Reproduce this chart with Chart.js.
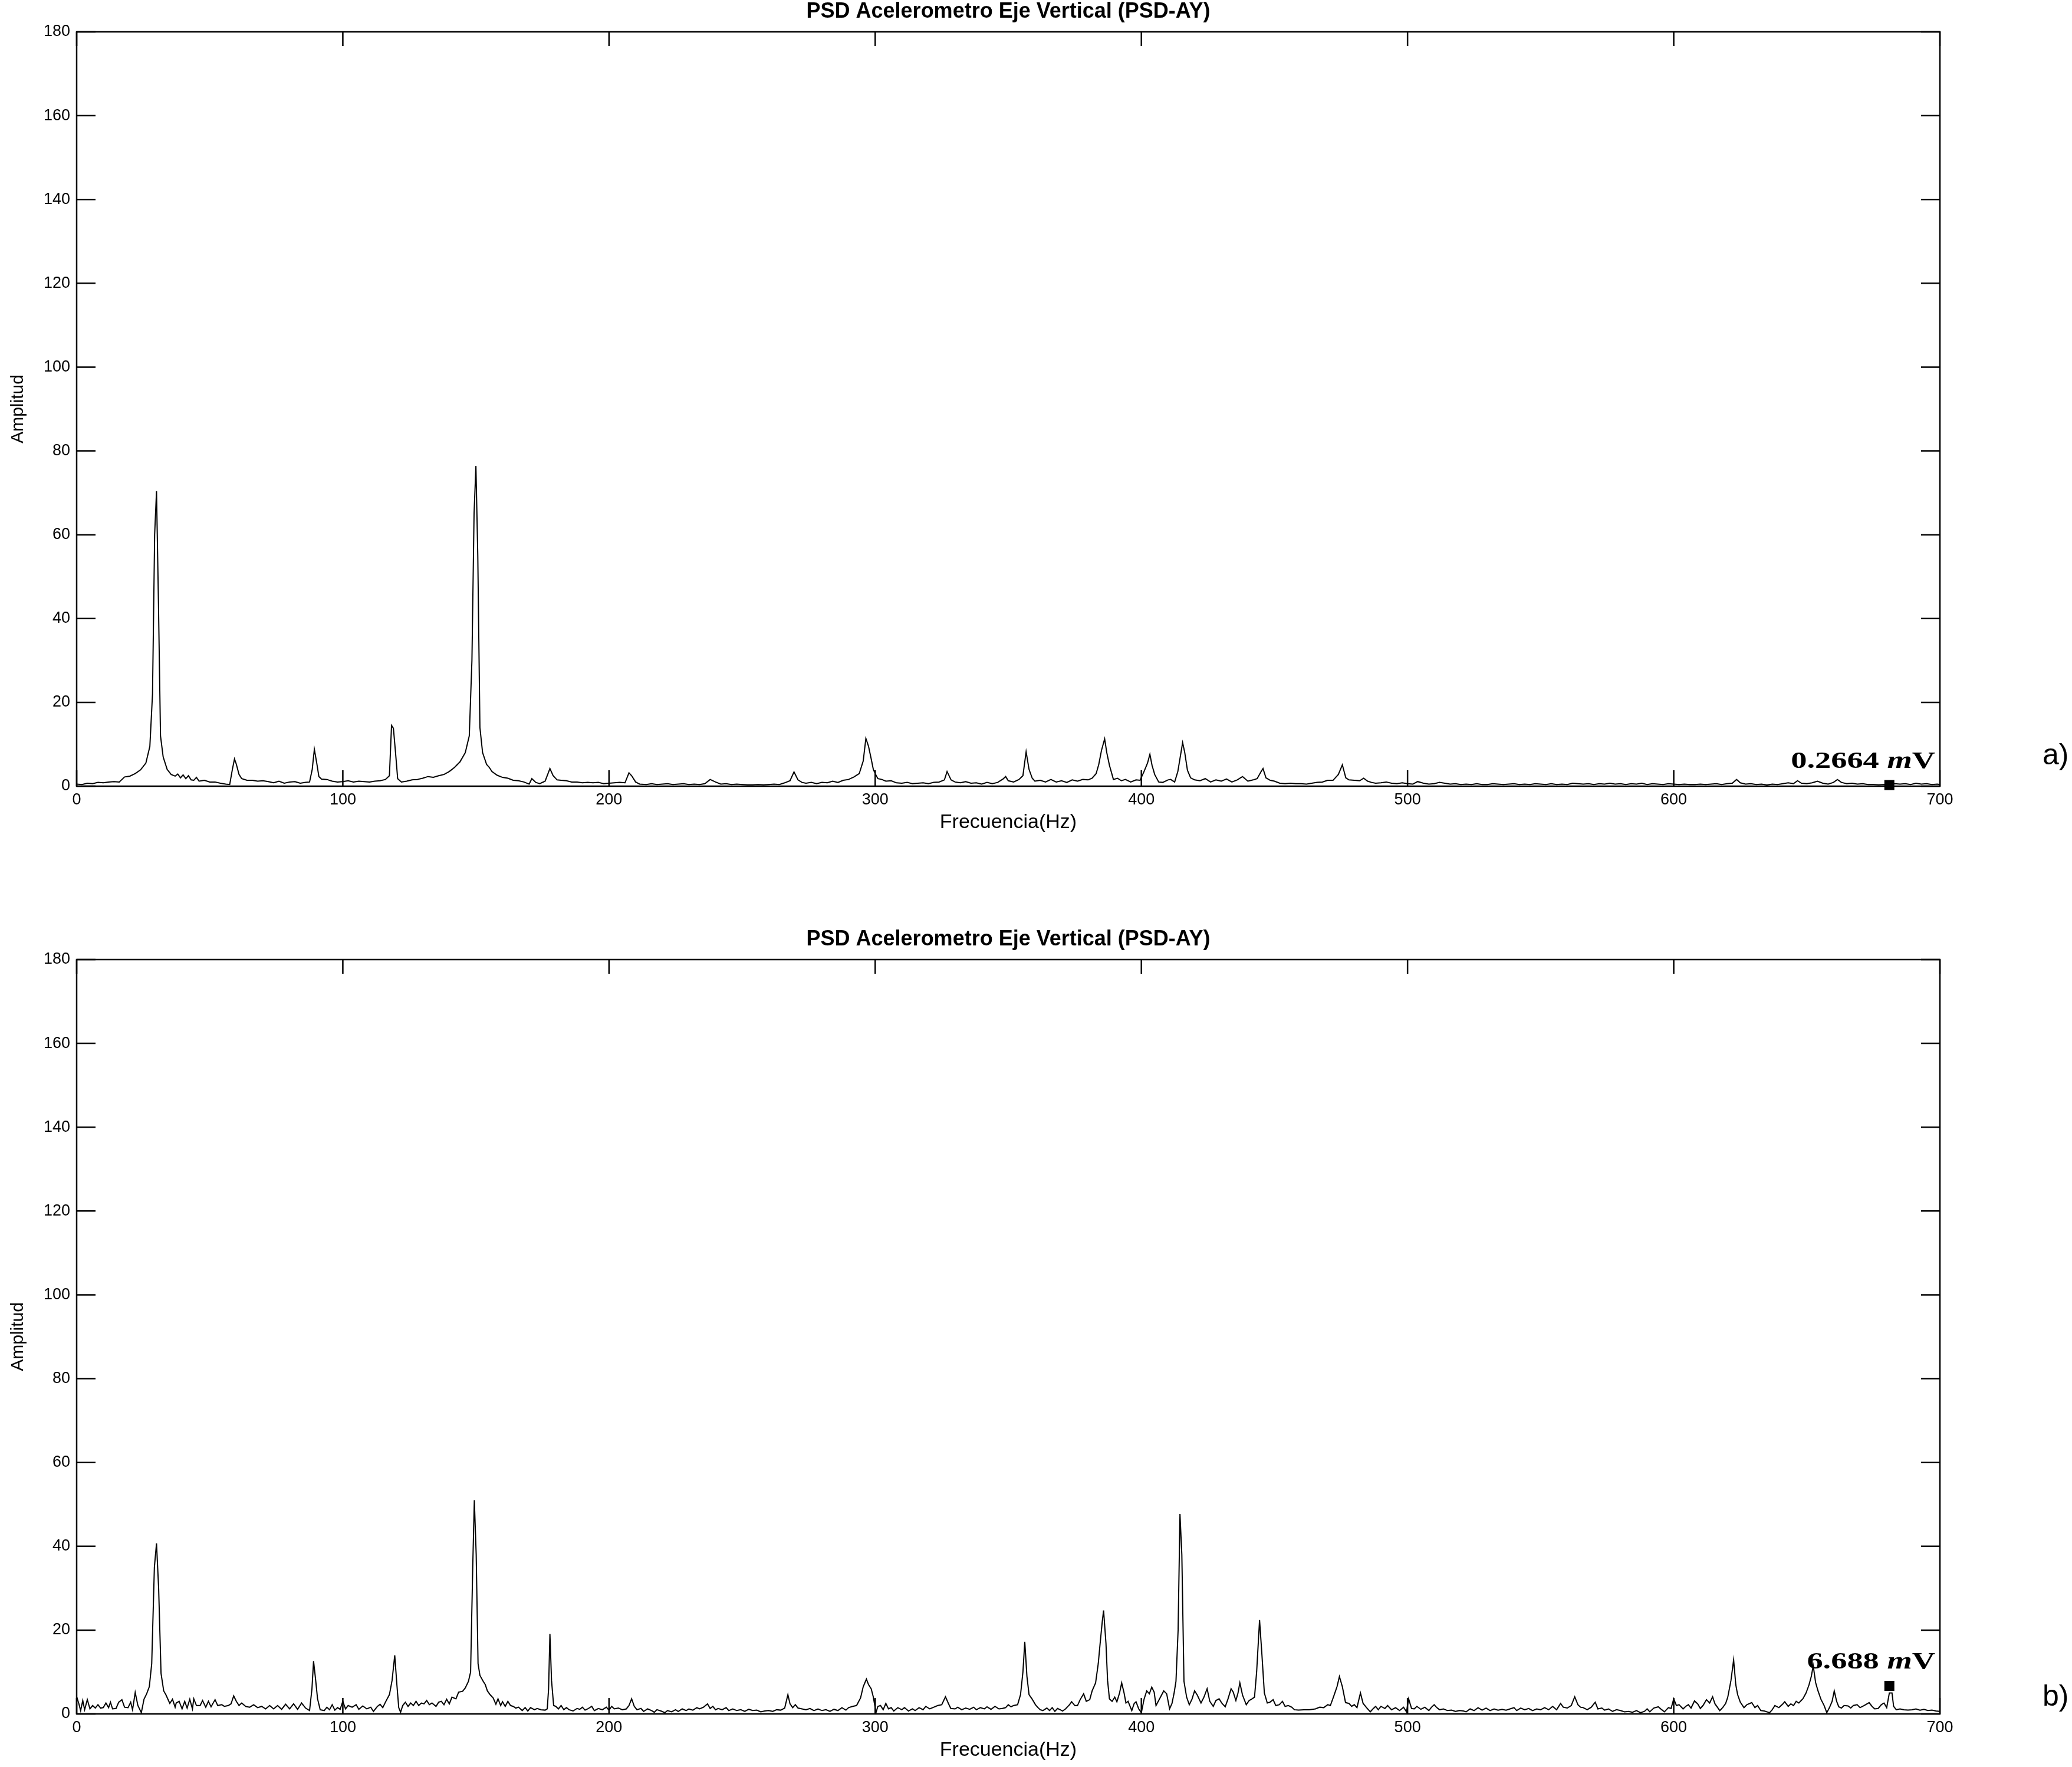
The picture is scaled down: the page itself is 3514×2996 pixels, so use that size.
<!DOCTYPE html>
<html lang="es">
<head>
    <meta charset="UTF-8">
    <title>PSD Acelerometro Eje Vertical</title>
    <script src="https://cdn.jsdelivr.net/npm/chart.js"></script>
    <style>
        body { margin: 0; background: #fff; }
        .panel { position: absolute; left: 0; width: 3514px; height: 1423px; }
        #panelA { top: 0; }
        #panelB { top: 1573px; }
    </style>
</head>
<body>
    <div class="panel" id="panelA"><canvas id="chartA" width="3514" height="1423"></canvas></div>
    <div class="panel" id="panelB"><canvas id="chartB" width="3514" height="1423"></canvas></div>

    <script>
        const title = 'PSD Acelerometro Eje Vertical (PSD-AY)';
        const xLabel = 'Frecuencia(Hz)';
        const yLabel = 'Amplitud';
        const xTicks = [0, 100, 200, 300, 400, 500, 600, 700];
        const yTicks = [0, 20, 40, 60, 80, 100, 120, 140, 160, 180];
        const panelLabels = ['a)', 'b)'];
        const markerFreq = 681;
        const markerAmps = [0.2664, 6.688];
        const markerTexts = ['0.2664 ', '6.688 '];

        // [Hz, amplitude] read off panel a)
        const spectrumA = [
            [0,0.5],[2,0.4],[4,0.7],[6,0.6],[8,0.9],[10,0.8],[12,1.0],[14,1.1],[16,1.0],[18,2.2],
            [20,2.4],[22,3.0],[24,3.9],[26,5.5],[27.5,9.5],[28.5,22],[29.3,60],[30,70.4],[30.7,45],[31.5,12],
            [32.5,7],[34,4],[35.5,2.8],[37,2.4],[38,2.9],[39,2.0],[40,2.7],[41,1.8],[42,2.5],[43,1.5],
            [44,1.4],[45,2.1],[46,1.2],[48,1.4],[50,1.0],[52,1.0],[54,0.7],[56,0.5],[57.5,0.4],[58.5,4],
            [59.3,6.5],[60,5.2],[61,2.8],[62,1.8],[64,1.4],[66,1.4],[68,1.2],[70,1.3],[72,1.1],[74,0.8],
            [76,1.2],[78,0.7],[80,1.0],[82,1.1],[84,0.7],[86,0.9],[87.5,1.0],[88.5,4],[89.3,8.8],[90.2,5.5],
            [91,2.3],[92,1.7],[94,1.6],[96,1.2],[98,1.0],[100,1.1],[102,1.3],[104,1.0],[106,1.2],[108,1.1],
            [110,1.0],[112,1.2],[114,1.3],[116,1.6],[117.5,2.5],[118.3,14.5],[119,13.8],[119.8,8],[120.6,1.8],[122,1.0],
            [124,1.2],[126,1.5],[128,1.6],[130,1.9],[132,2.3],[134,2.1],[136,2.5],[138,2.8],[140,3.5],[142,4.5],
            [144,5.8],[146,8.0],[147.5,12],[148.5,30],[149.3,65],[150,76.4],[150.7,55],[151.5,14],[152.5,8],[154,5.2],
            [155,4.5],[156,3.5],[158,2.6],[160,2.1],[162,1.9],[164,1.4],[166,1.3],[168,1.0],[170,0.5],[171,1.8],
            [172.5,0.9],[174,0.6],[176,1.2],[177.8,4.2],[179,2.5],[180.5,1.5],[182,1.4],[184,1.3],[186,1.0],[188,1.0],
            [190,0.8],[192,0.9],[194,0.8],[196,0.9],[198,0.6],[200,0.7],[202,0.8],[204,0.9],[206,0.8],[207.5,3.2],
            [208.5,2.5],[210,1.0],[211.5,0.5],[214,0.4],[216,0.6],[218,0.4],[220,0.5],[222,0.6],[224,0.4],[226,0.5],
            [228,0.6],[230,0.4],[232,0.5],[234,0.4],[236,0.6],[238,1.6],[240,1.0],[242,0.5],[244,0.6],[246,0.4],
            [248,0.5],[250,0.4],[252,0.3],[254,0.3],[256,0.4],[258,0.3],[260,0.4],[262,0.5],[264,0.4],[266,0.8],
            [268,1.3],[269.5,3.4],[271,1.5],[272.5,0.9],[274,0.7],[276,0.9],[278,0.6],[280,0.9],[282,0.8],[284,1.2],
            [286,0.9],[288,1.4],[290,1.6],[292,2.2],[294,3.0],[295.5,6],[296.5,11.4],[297.5,9.5],[298.5,6.5],[299.3,4],
            [300,3.0],[301,1.8],[302.5,1.6],[304,1.2],[306,1.3],[308,0.8],[310,0.7],[312,0.9],[314,0.6],[316,0.7],
            [318,0.8],[320,0.6],[322,0.9],[324,1.0],[326,1.5],[327,3.5],[328.5,1.5],[330,1.0],[332,0.8],[334,1.1],
            [336,0.7],[338,0.8],[340,0.5],[342,0.9],[344,0.6],[346,0.9],[348,1.7],[349,2.3],[350,1.3],[352,1.0],
            [354,1.6],[355.5,2.5],[356.7,8.2],[357.8,4],[359,1.9],[360,1.2],[362,1.4],[364,1.0],[366,1.6],[368,1.0],
            [370,1.3],[372,0.9],[374,1.5],[376,1.2],[378,1.6],[380,1.5],[381.5,1.9],[383,3],[384,5.2],[385,8.5],
            [386.2,11.3],[387,8],[388,5],[389.5,1.6],[391,1.9],[392.5,1.3],[394,1.6],[396,1.0],[398,1.5],[399.5,1.4],
            [401,3.5],[402.3,5.5],[403.2,7.6],[404,5],[405,2.8],[406.5,1.0],[408,0.9],[410,1.5],[411,1.6],[412.5,1.0],
            [413.7,3.5],[414.5,6.6],[415.5,10.4],[416.3,8],[417.3,3.8],[418.5,2.0],[420,1.5],[422,1.3],[424,1.8],[426,1.0],
            [428,1.5],[430,1.2],[432,1.7],[434,1.0],[436,1.5],[438,2.3],[440,1.2],[442,1.5],[443.5,1.8],[445,3.5],
            [445.7,4.2],[446.8,2.0],[448.4,1.4],[450,1.2],[452,0.7],[454,0.6],[456,0.7],[458,0.6],[460,0.6],[462,0.5],
            [464,0.7],[466,0.9],[468,1.0],[470,1.4],[472,1.4],[474,2.8],[475.5,5.1],[476.8,2.0],[478,1.5],[480,1.4],
            [482,1.3],[483.5,1.9],[485,1.2],[486.5,0.9],[488,0.7],[490,0.8],[492,1.0],[494,0.7],[496,0.6],[498,0.8],
            [500,0.6],[502,0.5],[503.8,1.1],[506,0.7],[508,0.5],[510,0.6],[512,0.9],[514,0.7],[516,0.5],[518,0.6],
            [520,0.4],[522,0.5],[524,0.4],[526,0.6],[528,0.4],[530,0.4],[532,0.6],[534,0.5],[536,0.4],[538,0.5],
            [540,0.6],[542,0.4],[544,0.5],[546,0.4],[548,0.6],[550,0.5],[552,0.4],[554,0.6],[556,0.4],[558,0.5],
            [560,0.4],[562,0.7],[564,0.6],[566,0.5],[568,0.6],[570,0.4],[572,0.6],[574,0.5],[576,0.7],[578,0.5],
            [580,0.6],[582,0.4],[584,0.6],[586,0.5],[588,0.7],[590,0.4],[592,0.6],[594,0.5],[596,0.4],[598,0.6],
            [600,0.5],[602,0.4],[604,0.5],[606,0.4],[608,0.4],[610,0.5],[612,0.4],[614,0.5],[616,0.6],[618,0.4],
            [620,0.6],[622,0.7],[623.6,1.6],[625,0.8],[627,0.5],[629,0.6],[631,0.4],[633,0.5],[635,0.3],[637,0.5],
            [639,0.4],[641,0.6],[643,0.8],[645,0.6],[646.5,1.3],[648,0.7],[650,0.6],[652,0.8],[654,1.2],[656,0.7],
            [658,0.5],[660,0.9],[661.5,1.6],[663,0.9],[665,0.6],[667,0.7],[669,0.5],[671,0.6],[673,0.4],[675,0.4],
            [677,0.3],[679,0.4],[681,0.27],[683,0.6],[685,0.5],[687,0.6],[689,0.4],[691,0.7],[693,0.5],[695,0.6],
            [697,0.4],[699,0.5],[700,0.4]
        ];

        // [Hz, amplitude] read off panel b)
        const spectrumB = [
            [0,4.1],[0.8,2.5],[1.5,0.8],[2.3,3.2],[3,1.0],[4,3.4],[5,1.2],[6,2.0],[7,1.4],[8,2.2],
            [9,1.4],[10,1.5],[11,2.6],[12,1.5],[12.7,2.8],[13.5,1.2],[14.8,1.3],[15.8,2.8],[17,3.4],[18,1.6],
            [19.3,1.5],[20.3,2.8],[21,1.0],[22,5.1],[23,2.0],[24.3,0.3],[25.3,3.5],[26.3,4.8],[27.3,6.5],[28.2,12],
            [29.2,35],[30,40.7],[30.8,30],[31.7,9.7],[32.7,5.5],[33.5,4.6],[34.5,3.2],[35,2.5],[36,3.5],[37,1.6],
            [37.4,2.6],[38.5,3.0],[39.6,1.2],[40.6,3.0],[41.5,1.4],[42.5,3.5],[43.5,1.2],[44,3.6],[45,2.0],[46.4,2.0],
            [47.3,3.2],[48.5,1.6],[49.5,3.0],[50.5,1.7],[52,3.4],[53,2.0],[54.5,2.2],[55.5,1.8],[57,2.0],[58,2.4],
            [59,4.3],[60,3.0],[61,2.0],[62,2.6],[63.5,1.8],[65,1.6],[66.5,2.2],[68,1.5],[69.5,1.8],[71,1.2],
            [72.5,2.0],[74,1.2],[75.5,2.0],[77,1.1],[78.5,2.3],[80,1.2],[81.5,2.4],[83,1.1],[84.5,2.6],[86,1.4],
            [87.5,0.8],[88.4,6],[89,12.6],[89.8,8],[90.5,3.6],[91.5,1.0],[93,0.8],[94,1.6],[95,1.0],[96,2.2],
            [97,0.9],[98,1.5],[99,1.1],[100,3.0],[101,1.2],[102,2.0],[103.5,1.6],[105,2.2],[106,1.1],[107.5,1.9],
            [109,1.2],[110.5,1.6],[111.5,0.6],[113,1.8],[114,2.3],[115,1.5],[116,2.8],[117.5,4.6],[118.5,8],[119.5,14],
            [120.3,7],[121,1.5],[121.7,0.4],[122.5,2.0],[123.5,2.8],[124.5,1.8],[125.5,2.6],[126.5,2.0],[127.5,3.0],[128.5,2.0],
            [129.5,2.6],[130.5,2.4],[131.5,3.2],[132.5,2.2],[133.5,2.6],[135,1.8],[136,2.8],[137,3.0],[138,2.2],[139,3.5],
            [140,2.4],[141,4.0],[142.5,3.6],[143.5,5.2],[145,5.4],[146,6.2],[147.2,7.8],[148,10],[148.8,35],[149.4,51],
            [150.1,38],[150.8,12],[151.5,9.2],[152.7,7.8],[153.5,7],[154.3,5.5],[155.3,4.6],[156.5,3.8],[157.5,2.3],[158.3,3.6],
            [159.3,2.0],[160,2.9],[161,1.8],[162,3.0],[163,2.0],[164,1.8],[165,1.4],[166,1.6],[167.4,0.8],[168.5,1.5],
            [169.5,0.7],[170.5,1.5],[172,1.0],[173,1.3],[174.5,1.0],[176,0.9],[176.8,1.2],[177.3,6],[177.8,19.1],[178.4,8],
            [179.2,2.0],[180,1.8],[181,1.2],[182,2.0],[183,1.0],[184,1.5],[185,1.0],[186.5,0.7],[188,1.3],[189,1.1],
            [190,1.6],[191,0.9],[192,1.2],[193.5,1.8],[194.5,0.8],[196,1.3],[197.5,1.0],[199,1.6],[200,0.9],[201,1.8],
            [202,1.2],[203.5,1.4],[205,1.0],[206.5,1.2],[207.5,2.0],[208.5,3.6],[209.5,1.8],[210.5,1.0],[212,1.3],[213,0.6],
            [214.5,1.2],[216,0.8],[217,0.4],[218,1.0],[219.5,0.7],[221,0.3],[222,0.8],[223.5,0.5],[225,1.0],[226,0.6],
            [227.5,1.2],[229,0.8],[230,1.2],[231.5,0.9],[233,1.5],[234,1.2],[235.5,1.6],[237,2.4],[238,1.3],[239,1.8],
            [240,1.0],[241,1.3],[242.5,1.0],[244,1.5],[245,0.8],[246.5,1.2],[248,0.8],[249.5,1.0],[251,0.6],[252.5,1.1],
            [254,0.8],[255.5,0.9],[257,0.5],[258.5,0.7],[260,0.8],[261.5,0.6],[263,1.0],[264.5,0.9],[266,1.4],[267.2,4.6],
            [268,2.4],[269,1.5],[270,2.2],[271,1.4],[272.5,1.2],[274,1.0],[275.5,1.3],[277,0.8],[278.5,1.2],[280,0.8],
            [281.5,1.0],[283,0.6],[284.5,1.1],[286,0.8],[287.5,1.5],[289,0.9],[290,1.5],[291.5,1.8],[293,2.0],[294.5,3.8],
            [295.5,6.5],[296.7,8.3],[297.5,7],[298.5,6],[299.3,4],[300.3,0.3],[301,1.8],[302,2.0],[303,1.0],[304,2.5],
            [305,1.2],[306,1.5],[307,0.7],[308.5,1.5],[310,1.0],[311,1.5],[312.5,0.7],[314,1.2],[315,0.8],[316.5,1.5],
            [318,1.0],[319,1.8],[320.5,1.2],[322,1.6],[323.5,2.0],[325,2.2],[326.4,4.1],[327.5,2.5],[328.4,1.3],[330,1.2],
            [331,1.6],[332.5,1.0],[334,1.4],[335.5,1.1],[337,1.6],[338,1.0],[339.5,1.5],[341,1.2],[342,1.7],[343.5,1.1],
            [345,1.8],[346.5,1.2],[347.8,1.3],[349,1.5],[350,2.2],[351,1.7],[352,2.0],[353.5,2.2],[354.6,4.6],[355.5,10],
            [356.2,17.2],[357,9],[357.8,4.6],[359,3.5],[360.2,2.2],[361,1.6],[362,1.0],[363,0.8],[364.5,1.4],[365.5,0.8],
            [366.5,1.5],[367.5,0.6],[368.5,1.3],[369.5,1.0],[370.4,0.7],[371.5,1.2],[373,2.2],[373.8,2.9],[375,2.0],[376,2.0],
            [377,3.4],[378.3,4.8],[379.3,3.0],[380.6,3.4],[381.5,5.5],[382.8,7.4],[383.8,12],[384.5,16.8],[385.3,22],[385.8,24.7],
            [386.7,16.8],[387.3,8],[388,3.6],[389,3.0],[390,4.0],[390.8,2.9],[391.8,5],[392.6,7.4],[393.5,5],[394.2,2.6],
            [395,3.0],[396.4,0.8],[397.3,2.5],[398,2.9],[399,1.2],[400,0.3],[401,3.5],[402,5.5],[403,4.8],[403.9,6.4],
            [404.8,5.2],[405.5,2.0],[406,2.6],[407,3.8],[408.4,5.5],[409.5,4.8],[410.6,1.2],[411.5,2.5],[412.3,5],[413,7.8],
            [413.8,20],[414.5,47.7],[415.2,38],[416,7.8],[417,4],[418,2.2],[419,3.5],[420,5.5],[421,4.5],[422.4,2.6],
            [423.5,4.0],[424.7,6.0],[425.7,3],[427,1.8],[428,3.2],[429.2,3.6],[430.3,2.5],[431.5,1.7],[432.5,3.5],[433.7,6.0],
            [434.5,5.2],[435.5,3.2],[436.3,5],[437,7.4],[438,4.5],[439.4,2.2],[440.5,3.2],[441.6,3.6],[442.5,4.0],[443.3,10],
            [444.4,22.4],[445.3,14],[446.2,5],[447.3,2.6],[448.3,2.8],[449.5,3.4],[450.5,2.0],[451.8,2.2],[453,3.0],[454,1.8],
            [455.2,2.0],[456.5,1.6],[457.5,1.0],[459,0.9],[461,1.0],[463,1.0],[465.4,1.2],[467,1.6],[468.5,1.5],[470,2.2],
            [471,2.0],[472.2,4.1],[473.5,6.5],[474.4,8.9],[475.5,6.5],[476.7,2.7],[478,2.5],[479,1.8],[480,2.2],[481,1.5],
            [482.3,5.0],[483.3,2.5],[484.6,1.5],[486,0.5],[487,1.2],[488,1.8],[489,1.0],[490,1.8],[491.5,1.3],[492.5,2.0],
            [494,1.0],[495.5,1.5],[497,0.8],[498.5,1.6],[499.6,0.5],[500.4,3.6],[501.5,1.3],[502.5,1.2],[503.5,1.8],[505,1.1],
            [506.5,1.6],[508,0.8],[509,1.6],[510,2.2],[511,1.5],[512,1.0],[513.5,1.2],[515,0.8],[516.5,0.9],[518,0.6],
            [519.5,0.8],[521,0.7],[522,0.5],[523.5,1.2],[525,0.8],[526.5,1.5],[528,0.9],[529.5,1.4],[531,0.8],[532.5,1.2],
            [534,0.9],[535.5,1.1],[537,0.9],[538.5,1.2],[540,1.5],[541,0.8],[542.5,1.4],[544,1.0],[545.5,1.3],[547,0.8],
            [548.5,1.2],[550,1.0],[551.5,1.5],[553,1.0],[554.5,1.8],[556,1.0],[557.5,2.5],[558.5,1.6],[560,1.4],[561.5,2.0],
            [562.8,4.1],[564,2.2],[565,1.6],[566,1.5],[567.5,1.0],[569,1.6],[570.5,2.8],[571.5,1.2],[573,1.4],[574,0.9],
            [575.5,1.2],[577,0.6],[578.5,1.0],[580,0.8],[581.5,0.5],[583,0.6],[584.5,0.4],[586,0.8],[587.5,0.3],[589,0.6],
            [590,1.2],[591,0.5],[592.5,1.4],[594.2,1.7],[595.5,1.0],[596.5,0.5],[598,1.5],[599,1.3],[600,3.6],[601,2.0],
            [602,2.2],[603.5,1.2],[604.5,1.8],[605.5,2.2],[606.5,1.4],[607.8,3.1],[609,2.4],[610,1.3],[611,2.0],[612.3,3.4],
            [613.5,2.6],[614.6,4.1],[615.5,2.4],[617.3,0.8],[618.5,1.6],[619.5,2.5],[620.3,4],[621.5,8],[622.5,12.9],[623.3,7],
            [624,4.6],[625,2.8],[626.4,1.5],[627.5,2.2],[629.3,2.7],[630.5,1.5],[631.5,2.0],[632.7,0.8],[634,0.7],[636,0.3],
            [637,1.0],[638,2.0],[639.5,1.5],[641,2.4],[641.7,2.9],[643,1.8],[644,2.4],[645,2.0],[646,3.0],[647,2.6],
            [648.5,3.6],[649.7,5],[650.8,6.9],[651.7,9],[652.4,11.5],[653.3,7.5],[654.2,5.5],[655.3,3.5],[656.5,2.0],[657.5,0.3],
            [658.5,1.5],[659.5,3.0],[660.3,5.5],[661.2,3.0],[662,1.7],[663,1.4],[664,2.0],[665.5,1.9],[666.5,1.4],[667.5,2.0],
            [668.9,2.2],[670,1.5],[671.5,2.0],[673.4,2.7],[674.5,1.8],[675.5,1.2],[676.8,1.3],[678,2.2],[679,2.6],[680,1.5],
            [681,5.0],[682,5.0],[682.6,1.8],[683.6,1.0],[685,1.2],[686.5,1.0],[688,0.9],[689.5,1.0],[691,1.2],[692.5,0.9],
            [694,1.1],[695.5,0.8],[697,0.9],[698.5,0.7],[700,0.6]
        ];

        const sans = '"Liberation Sans", Arial, sans-serif';
        const serif = '"Liberation Serif", "Times New Roman", serif';

        // title, box with inward ticks, marker text and panel letter
        const decorations = {
            id: 'decorations',
            afterDraw(chart, args, opts) {
                const { ctx, chartArea: a, scales: { x, y } } = chart;
                ctx.save();
                ctx.fillStyle = '#000';
                ctx.strokeStyle = '#000';

                ctx.font = 'bold 36px ' + sans;
                ctx.textAlign = 'center';
                ctx.textBaseline = 'middle';
                ctx.fillText(title, (a.left + a.right) / 2, 20);

                ctx.lineWidth = 2.5;
                ctx.strokeRect(a.left, a.top, a.right - a.left, a.bottom - a.top);
                ctx.beginPath();
                xTicks.forEach(v => {
                    const px = x.getPixelForValue(v);
                    ctx.moveTo(px, a.bottom); ctx.lineTo(px, a.bottom - 27);
                    ctx.moveTo(px, a.top); ctx.lineTo(px, a.top + 24);
                });
                yTicks.forEach(v => {
                    const py = y.getPixelForValue(v);
                    ctx.moveTo(a.left, py); ctx.lineTo(a.left + 32, py);
                    ctx.moveTo(a.right, py); ctx.lineTo(a.right - 32, py);
                });
                ctx.stroke();

                // value label above the square marker
                const pt = chart.getDatasetMeta(1).data[0];
                const parts = [
                    { t: opts.text, f: 'bold 40px ' + serif },
                    { t: 'm', f: 'italic bold 40px ' + serif },
                    { t: 'V', f: 'bold 40px ' + serif }
                ];
                let total = 0;
                parts.forEach(p => { ctx.font = p.f; p.w = ctx.measureText(p.t).width; total += p.w; });
                ctx.translate(a.right - 8, pt.y - 29);
                ctx.scale(1.36, 1);
                ctx.textAlign = 'left';
                ctx.textBaseline = 'alphabetic';
                let cx = -total;
                parts.forEach(p => { ctx.font = p.f; ctx.fillText(p.t, cx, 0); cx += p.w; });
                ctx.restore();

                ctx.save();
                ctx.fillStyle = '#000';
                ctx.font = '50px ' + sans;
                ctx.textAlign = 'left';
                ctx.textBaseline = 'middle';
                ctx.fillText(opts.panel, 3464, opts.panelY);
                ctx.restore();
            }
        };

        function makeChart(id, spectrum, i) {
            return new Chart(document.getElementById(id), {
                type: 'line',
                data: {
                    datasets: [{
                        data: spectrum.map(p => ({ x: p[0], y: p[1] })),
                        borderColor: '#000',
                        borderWidth: 2,
                        pointRadius: 0,
                        tension: 0
                    }, {
                        type: 'scatter',
                        data: [{ x: markerFreq, y: markerAmps[i] }],
                        pointStyle: 'rect',
                        pointRadius: 12,
                        backgroundColor: '#000',
                        borderWidth: 0,
                        clip: false
                    }]
                },
                options: {
                    responsive: false,
                    animation: false,
                    events: [],
                    layout: { padding: { left: 0, top: 54, right: 224, bottom: 0 } },
                    scales: {
                        x: {
                            type: 'linear',
                            min: 0,
                            max: 700,
                            afterFit(s) { s.height = 90; },
                            afterBuildTicks(s) { s.ticks = xTicks.map(v => ({ value: v })); },
                            ticks: { color: '#000', padding: 7, maxRotation: 0, font: { family: sans, size: 27 } },
                            grid: { display: false, drawTicks: false },
                            border: { display: false },
                            title: {
                                display: true, text: xLabel, color: '#000',
                                font: { family: sans, size: 34, lineHeight: 1 },
                                padding: { top: 0, bottom: 11 }
                            }
                        },
                        y: {
                            min: 0,
                            max: 180,
                            afterFit(s) { s.width = 130; },
                            afterBuildTicks(s) { s.ticks = yTicks.map(v => ({ value: v })); },
                            ticks: { color: '#000', padding: 11, font: { family: sans, size: 27 } },
                            grid: { display: false, drawTicks: false },
                            border: { display: false },
                            title: {
                                display: true, text: yLabel, color: '#000',
                                font: { family: sans, size: 30, lineHeight: 1 },
                                padding: { top: 16, bottom: 0 }
                            }
                        }
                    },
                    plugins: {
                        legend: { display: false },
                        tooltip: { enabled: false },
                        decorations: { text: markerTexts[i], panel: panelLabels[i], panelY: i === 0 ? 1282 : 1305 }
                    }
                },
                plugins: [decorations]
            });
        }

        makeChart('chartA', spectrumA, 0);
        makeChart('chartB', spectrumB, 1);
    </script>
</body>
</html>
